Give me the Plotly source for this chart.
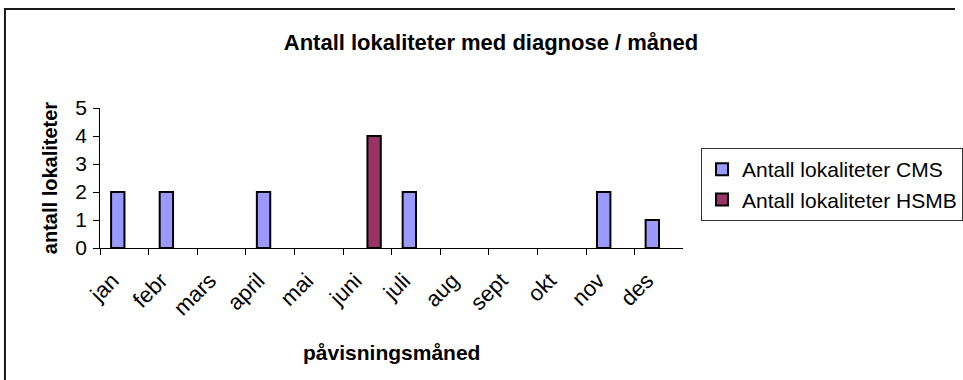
import plotly.graph_objects as go

# Monthly counts of localities with diagnosis
months = ["jan", "febr", "mars", "april", "mai", "juni",
          "juli", "aug", "sept", "okt", "nov", "des"]
cms_counts = [2, 2, 0, 2, 0, 0, 2, 0, 0, 0, 2, 1]
hsmb_counts = [0, 0, 0, 0, 0, 4, 0, 0, 0, 0, 0, 0]

W, H = 963, 380
FONT = "Liberation Sans, Arial, sans-serif"


def px_x(v):
    return v / W


def px_y(v):
    return 1 - v / H


def nonzero(vals):
    # empty months get no bar at all
    return [v if v else None for v in vals]


fig = go.Figure()
fig.add_trace(go.Bar(
    x=months, y=nonzero(cms_counts), name="Antall lokaliteter CMS",
    marker=dict(color="#9999FF", line=dict(color="black", width=2)),
    legendgroup="cms",
))
fig.add_trace(go.Bar(
    x=months, y=nonzero(hsmb_counts), name="Antall lokaliteter HSMB",
    marker=dict(color="#993366", line=dict(color="black", width=2)),
    legendgroup="hsmb",
))

# chart frame: left and top edges (the rest runs off the page)
bx, by = px_x(5), px_y(9)
frame_path = f"M {bx},0 L {bx},{by} L 1,{by}"

fig.update_layout(
    width=W, height=H,
    margin=dict(l=0, r=0, t=0, b=0),
    paper_bgcolor="white", plot_bgcolor="white",
    barmode="group", bargap=0.45, bargroupgap=0,
    font=dict(family=FONT, color="black"),
    title=dict(
        text="<b>Antall lokaliteter med diagnose / måned</b>",
        x=px_x(491), y=px_y(42), xanchor="center", yanchor="middle",
        font=dict(size=22, family=FONT, color="black"),
    ),
    xaxis=dict(
        domain=[px_x(101), px_x(689)],
        type="category", tickson="boundaries",
        ticks="outside", ticklen=6, tickcolor="black", tickwidth=1,
        showline=True, linecolor="black", linewidth=1,
        showgrid=False, zeroline=False,
        tickangle=-45, tickfont=dict(size=22),
        ticklabelstandoff=10, ticklabelshift=-12,
        title=dict(text="<b>påvisningsmåned</b>", font=dict(size=21), standoff=26),
        automargin=False,
    ),
    yaxis=dict(
        domain=[px_y(248), px_y(108)],
        range=[0, 5], dtick=1,
        ticks="outside", ticklen=6, tickcolor="black", tickwidth=1,
        showline=True, linecolor="black", linewidth=1,
        showgrid=False, zeroline=False,
        tickfont=dict(size=21), ticklabelstandoff=2,
        title=dict(text="<b>antall lokaliteter</b>", font=dict(size=20), standoff=12),
        automargin=False,
    ),
    legend=dict(
        x=px_x(707), y=px_y(148), xanchor="left", yanchor="top",
        bordercolor="#333333", borderwidth=1, bgcolor="white",
        font=dict(size=21, family=FONT),
        traceorder="grouped", tracegroupgap=0,
    ),
    shapes=[dict(
        type="path", xref="paper", yref="paper", path=frame_path,
        line=dict(color="#1a1a1a", width=2), layer="below",
    )],
)

fig.write_html("out.html")
